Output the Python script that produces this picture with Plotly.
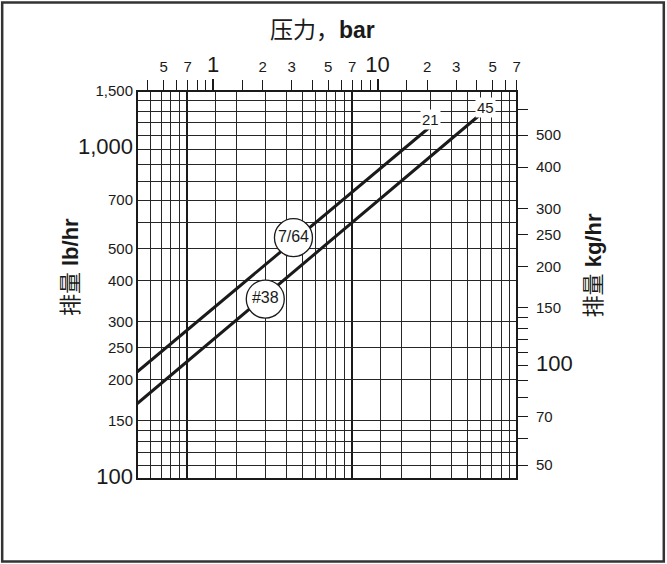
import math
import plotly.graph_objects as go

# ---------------- data ----------------
# vertical grid (bottom, psig scale, no labels)
psig_grid_major = [10, 100]
psig_grid_minor = [6, 7, 8, 9, 15, 20, 30, 40, 50, 60, 70, 80, 90,
                   150, 200, 300, 400, 500, 600, 700, 800, 900]
# left axis, lb/hr
lb_ticks = [100, 110, 120, 130, 140, 150, 200, 250, 300, 400, 500, 600, 700,
            800, 900, 1000, 1100, 1200, 1300, 1400, 1500]
lb_labels = ["100", "", "", "", "", "150", "200", "250", "300", "400", "500", "",
             "700", "", "", "1,000", "", "", "", "", "1,500"]
# right axis, kg/hr
kg_ticks = [50, 60, 70, 80, 90, 100, 110, 120, 130, 140, 150, 200, 250, 300,
            400, 500, 600]
kg_labels = ["50", "", "70", "", "", "100", "", "", "", "", "150", "200", "250",
             "300", "400", "500", ""]
# top axis, bar
bar_ticks = [0.4, 0.5, 0.6, 0.7, 0.8, 0.9, 1, 1.5, 2, 3, 4, 5, 6, 7, 8, 9, 10,
             15, 20, 30, 40, 50, 60, 70]
bar_labels = ["", "5", "", "7", "", "", "1", "", "2", "3", "", "5", "", "7", "",
              "", "10", "", "2", "3", "", "5", "", "7"]
bar_major = [1, 10]
big_labels = ["1", "10", "100", "1,000"]

# capacity lines
orifices = ["7/64", "#38"]
line_psig = [[5, 302], [5, 609]]
line_lbhr = [[211, 1175], [169, 1282]]
circle_psig = [44.3, 29.9]
circle_lbhr = [539, 351]
end_label_text = ["21", "45"]
end_label_bar = [21, 45]
end_label_lbhr = [1232, 1339]

# ---------------- constants ----------------
PSI_PER_BAR = 14.5038
LB_PER_KG = 2.20462
PSIG_RANGE = [5, 1000]
BAR_RANGE = [5 / PSI_PER_BAR, 70.4]
LB_RANGE = [100, 1500]

W, H = 667, 564
L, R, T, B = 137, 149.5, 90.7, 84.7
PW, PH = W - L - R, H - T - B

NARROW = "Liberation Sans Narrow, Arial Narrow, Liberation Sans, Arial, sans-serif"
SANS = "Liberation Sans, Arial, Noto Sans CJK SC, sans-serif"
INK = "#1a1a1a"


def big(lbls):
    return [f'<span style="font-size:22px">{t}</span>' if t in big_labels else t for t in lbls]


def px2paper_x(px):
    return (px - L) / PW


def px2paper_y(py):
    return (H - B - py) / PH


fig = go.Figure()

for name, xs, ys in zip(orifices, line_psig, line_lbhr):
    fig.add_trace(go.Scatter(x=xs, y=ys, mode="lines", name=name,
                             line=dict(color=INK, width=3), showlegend=False,
                             hoverinfo="skip"))

fig.add_trace(go.Scatter(
    x=circle_psig, y=circle_lbhr, mode="markers+text", text=orifices,
    textposition="middle center",
    textfont=dict(family=NARROW, size=16, color=INK),
    marker=dict(symbol="circle", size=38, color="white",
                line=dict(color=INK, width=1.3)),
    showlegend=False, hoverinfo="skip"))

# invisible traces to bind secondary axes
fig.add_trace(go.Scatter(x=BAR_RANGE, y=LB_RANGE,
                         xaxis="x2", yaxis="y", mode="markers",
                         marker=dict(opacity=0), showlegend=False, hoverinfo="skip"))
fig.add_trace(go.Scatter(x=PSIG_RANGE, y=[v / LB_PER_KG for v in LB_RANGE],
                         xaxis="x", yaxis="y2", mode="markers",
                         marker=dict(opacity=0), showlegend=False, hoverinfo="skip"))
fig.add_trace(go.Scatter(x=BAR_RANGE, y=LB_RANGE,
                         xaxis="x3", yaxis="y", mode="markers",
                         marker=dict(opacity=0), showlegend=False, hoverinfo="skip"))

xr = [math.log10(v) for v in PSIG_RANGE]
xr_bar = [math.log10(v) for v in BAR_RANGE]
yr = [math.log10(v) for v in LB_RANGE]
yr_kg = [math.log10(v / LB_PER_KG) for v in LB_RANGE]

fig.update_layout(
    width=W, height=H,
    margin=dict(l=L, r=R, t=T, b=B, pad=0),
    paper_bgcolor="white", plot_bgcolor="white",
    showlegend=False,
    xaxis=dict(type="log", range=xr, tickvals=psig_grid_major,
               showticklabels=False, ticks="", showline=False, zeroline=False,
               showgrid=True, gridcolor=INK, gridwidth=2.0,
               minor=dict(tickvals=psig_grid_minor, showgrid=True,
                          gridcolor="#262626", gridwidth=1.3, ticks="")),
    xaxis2=dict(type="log", range=xr_bar, overlaying="x", side="top", anchor="y",
                tickvals=bar_ticks, ticktext=big(bar_labels),
                ticks="outside", ticklen=10, tickwidth=1.2, tickcolor=INK,
                showgrid=False, zeroline=False, showline=False,
                ticklabelstandoff=2,
                tickfont=dict(family=NARROW, size=15, color=INK)),
    xaxis3=dict(type="log", range=xr_bar, overlaying="x", side="top", anchor="y",
                tickvals=bar_major, ticktext=["", ""],
                ticks="outside", ticklen=11, tickwidth=2.4, tickcolor=INK,
                showgrid=False, zeroline=False, showline=False),
    yaxis=dict(type="log", range=yr, tickvals=lb_ticks, ticktext=big(lb_labels),
               ticks="", showgrid=True, gridcolor="#262626", gridwidth=1.3,
               zeroline=False, showline=False, ticklabelstandoff=3,
               tickfont=dict(family=NARROW, size=15, color=INK)),
    yaxis2=dict(type="log", range=yr_kg, overlaying="y", side="right", anchor="x",
                tickvals=kg_ticks, ticktext=big(kg_labels),
                ticks="outside", ticklen=10, tickwidth=1.2, tickcolor=INK,
                showgrid=False, zeroline=False, showline=False,
                ticklabelstandoff=5,
                tickfont=dict(family=NARROW, size=15, color=INK)),
)

# end-pressure labels (white background)
for txt, b, lb in zip(end_label_text, end_label_bar, end_label_lbhr):
    fig.add_annotation(x=math.log10(b), y=math.log10(lb), xref="x2", yref="y",
                       text=txt, showarrow=False, bgcolor="white", borderpad=1,
                       xanchor="center", yanchor="middle",
                       font=dict(family=NARROW, size=15, color=INK))

# titles
fig.add_annotation(x=px2paper_x(323), y=px2paper_y(30), xref="paper", yref="paper",
                   text="压力，<b>bar</b>", showarrow=False,
                   xanchor="center", yanchor="middle",
                   font=dict(family=SANS, size=23, color=INK))
fig.add_annotation(x=px2paper_x(70), y=px2paper_y(267), xref="paper", yref="paper",
                   text="排量 <b>lb/hr</b>", showarrow=False, textangle=-90,
                   xanchor="center", yanchor="middle",
                   font=dict(family=SANS, size=22, color=INK))
fig.add_annotation(x=px2paper_x(594), y=px2paper_y(265), xref="paper", yref="paper",
                   text="排量 <b>kg/hr</b>", showarrow=False, textangle=-90,
                   xanchor="center", yanchor="middle",
                   font=dict(family=SANS, size=22, color=INK))

# plot frame and outer frame
fig.add_shape(type="rect", xref="paper", yref="paper", x0=0, y0=0, x1=1, y1=1,
              line=dict(color=INK, width=2), layer="above")
fig.add_shape(type="rect", xref="paper", yref="paper",
              x0=px2paper_x(2), x1=px2paper_x(664.5),
              y0=px2paper_y(562), y1=px2paper_y(2),
              line=dict(color="#333333", width=2.5), layer="above")

fig.write_html("out.html",
               config={"displayModeBar": False},
               post_script="document.body.style.margin='0';"
                           "document.body.style.overflow='hidden';")
